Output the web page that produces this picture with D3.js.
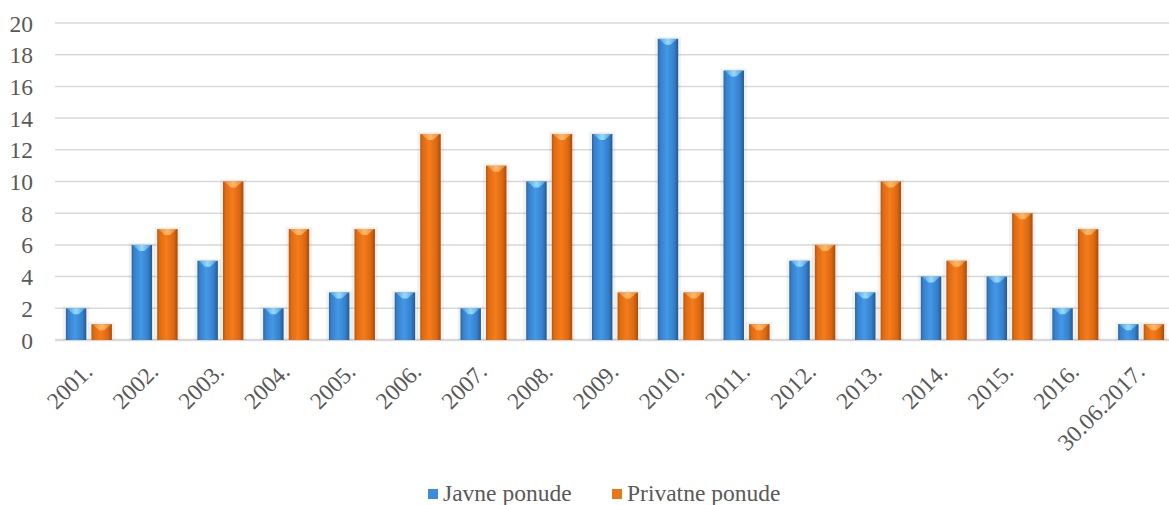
<!DOCTYPE html>
<html><head><meta charset="utf-8">
<script src="https://cdn.jsdelivr.net/npm/d3@7"></script>
<style>body{margin:0;background:#fff;} svg{display:block;}</style>
</head><body>
<svg id="c" width="1169" height="505"></svg>
<script>
const categories = ["2001.","2002.","2003.","2004.","2005.","2006.","2007.","2008.","2009.","2010.","2011.","2012.","2013.","2014.","2015.","2016.","30.06.2017."];
const javne =    [2,6,5,2,3,3,2,10,13,19,17,5,3,4,4,2,1];
const privatne = [1,7,10,7,7,13,11,13,3,3,1,6,10,5,8,7,1];
const seriesNames = ["Javne ponude","Privatne ponude"];
const yTicks = [0,2,4,6,8,10,12,14,16,18,20];

const svg = d3.select("#c");
const font = "Liberation Serif, Times New Roman, serif";
const fs = "23.5px";
const textColor = "#595959";

const x0 = d3.scaleBand().domain(categories).range([56,1174]).paddingInner(0.3).paddingOuter(0.15);
const x1 = d3.scaleBand().domain(seriesNames).range([0,x0.bandwidth()]).paddingInner(0.2);
const y = d3.scaleLinear().domain([0,20]).range([340,23]);

const defs = svg.append("defs");
function grad(id, stops){
  const g = defs.append("linearGradient").attr("id",id).attr("x1","0").attr("x2","1").attr("y1","0").attr("y2","0");
  stops.forEach(s=>g.append("stop").attr("offset",s[0]).attr("stop-color",s[1]));
}
grad("gBlue",[[0,"#2a64a3"],[0.12,"#3680cc"],[0.45,"#4498e6"],[0.8,"#3580cc"],[1,"#25598f"]]);
grad("gOrange",[[0,"#b9560c"],[0.12,"#e06a10"],[0.45,"#f47c1c"],[0.8,"#dc6810"],[1,"#a94c08"]]);
grad("capBlue",[[0,"#4a9ee6"],[0.5,"#9fe2fb"],[1,"#4a9ee6"]]);
grad("capOrange",[[0,"#f08a30"],[0.5,"#ffc070"],[1,"#f08a30"]]);
const fills = {"Javne ponude":["url(#gBlue)","url(#capBlue)","#3b8ddb"], "Privatne ponude":["url(#gOrange)","url(#capOrange)","#ec7516"]};

svg.append("g").selectAll("line").data(yTicks).join("line")
  .attr("x1",55).attr("x2",1169)
  .attr("y1",d=>y(d)).attr("y2",d=>y(d))
  .attr("stroke","#d9d9d9").attr("stroke-width",d=>d===0?2.5:1.5);

const yAxis = d3.axisLeft(y).tickValues(yTicks).tickSize(0).tickPadding(0);
const ya = svg.append("g").attr("transform","translate(33,0)").call(yAxis);
ya.select(".domain").remove();
ya.selectAll("text").style("font-family",font).style("font-size",fs).attr("fill",textColor).attr("dy","0.34em");

const data = categories.map((c,i)=>({cat:c, vals:[{s:seriesNames[0],v:javne[i]},{s:seriesNames[1],v:privatne[i]}]}));
const groups = svg.append("g").selectAll("g").data(data).join("g")
  .attr("transform",d=>`translate(${x0(d.cat)},0)`);
const bars = groups.selectAll("g").data(d=>d.vals).join("g");
bars.append("rect")
  .attr("x",d=>x1(d.s)-3).attr("width",x1.bandwidth()+6)
  .attr("y",d=>y(d.v)-2).attr("height",d=>y(0)-y(d.v)+2)
  .attr("fill","#000").attr("opacity",0.05);
bars.append("rect")
  .attr("x",d=>x1(d.s)).attr("width",x1.bandwidth())
  .attr("y",d=>y(d.v)).attr("height",d=>y(0)-y(d.v))
  .attr("fill",d=>fills[d.s][0]);
bars.append("path")
  .attr("d",d=>{
    const xl=x1(d.s), w=x1.bandwidth(), t=y(d.v);
    return `M${xl+1},${t} L${xl+w-1},${t} L${xl+w*0.62},${t+6} L${xl+w*0.38},${t+6} Z`;
  })
  .attr("fill",d=>fills[d.s][1]).attr("opacity",0.9);

svg.append("g").selectAll("text").data(categories).join("text")
  .attr("transform",d=>`translate(${x0(d)+x0.bandwidth()/2+5},373) rotate(-45)`)
  .attr("text-anchor","end")
  .style("font-family",font).style("font-size",fs).attr("fill",textColor)
  .text(d=>d);

const legend = [{s:seriesNames[0],x:428,c:"#3b8ddb"},{s:seriesNames[1],x:612,c:"#ec7516"}];
const lg = svg.append("g").selectAll("g").data(legend).join("g").attr("transform",d=>`translate(${d.x},0)`);
lg.append("rect").attr("x",0).attr("y",489).attr("width",10).attr("height",10).attr("fill",d=>d.c);
lg.append("text").attr("x",15).attr("y",501).style("font-family",font).style("font-size",fs).attr("fill",textColor).text(d=>d.s);
</script>
</body></html>
